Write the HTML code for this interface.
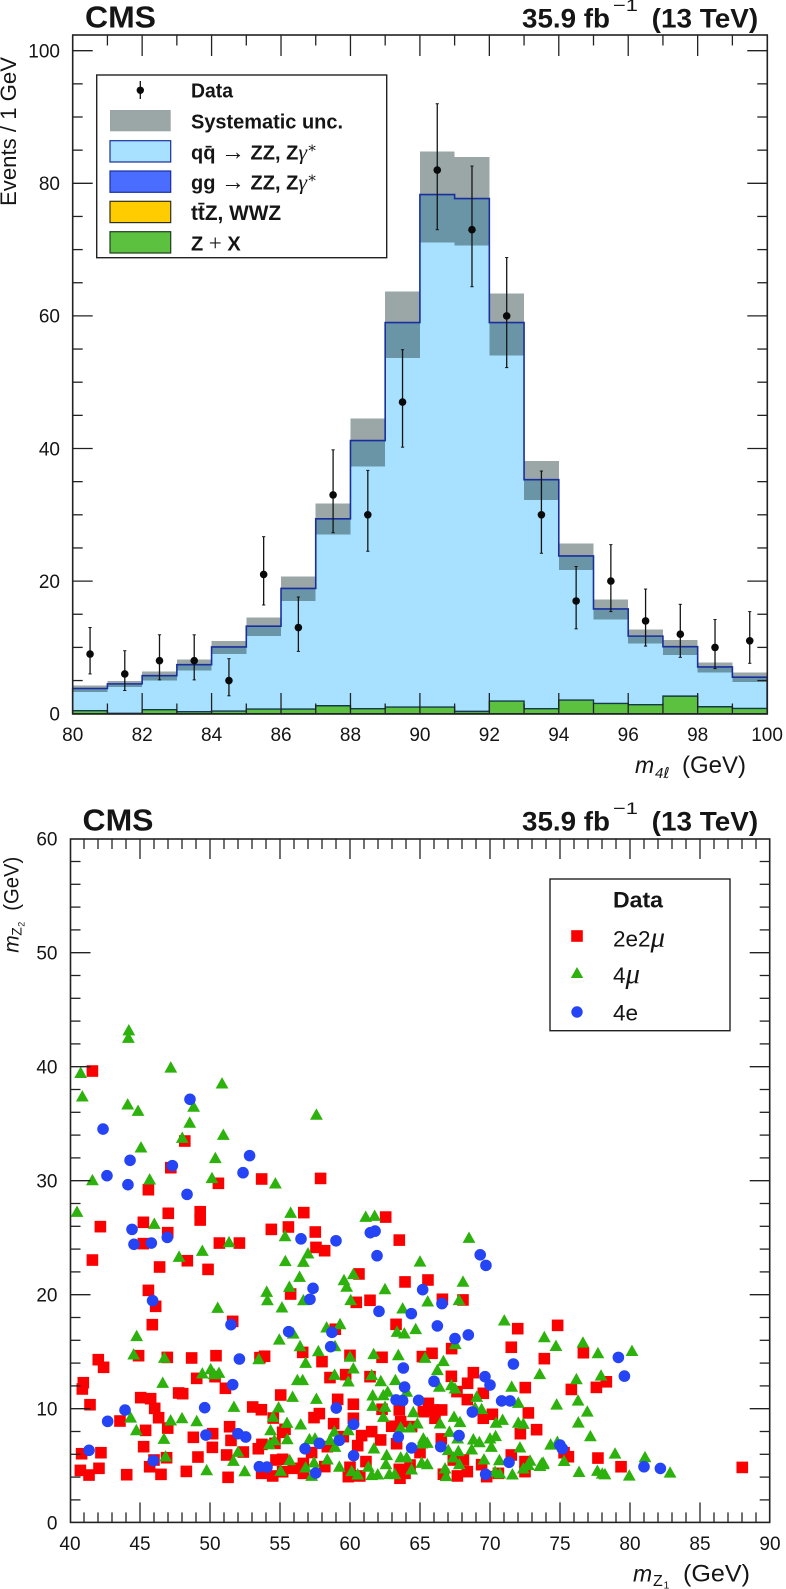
<!DOCTYPE html>
<html lang="en">
<head>
<meta charset="utf-8">
<title>CMS m4l and mZ1 vs mZ2 plots</title>
<style>
html,body{margin:0;padding:0;background:#fff}
svg{display:block;font-family:"Liberation Sans",Arial,sans-serif;fill:#151515}
.b{font-weight:bold}
.sym{font-family:"Liberation Serif","DejaVu Serif",serif;font-weight:normal}
</style>
</head>
<body>
<svg id="fig" xmlns="http://www.w3.org/2000/svg" width="786" height="1589" viewBox="0 0 786 1589">
<g id="top-marks"></g>
<g id="top-ticks"></g>
<g id="top-data"></g>
<rect x="72.7" y="35" width="694.6" height="679" fill="none" stroke="#222" stroke-width="1.6"/>

<text class="b" x="85" y="27.7" font-size="31" textLength="71" lengthAdjust="spacingAndGlyphs">CMS</text>
<text class="b" x="522" y="27.7" font-size="27" textLength="88" lengthAdjust="spacingAndGlyphs">35.9 fb</text>
<text x="613" y="11" font-size="17" textLength="25" lengthAdjust="spacingAndGlyphs">−1</text>
<text class="b" x="651.7" y="27.7" font-size="27" textLength="106.5" lengthAdjust="spacingAndGlyphs">(13 TeV)</text>
<text transform="translate(16,206) rotate(-90)" font-size="22" textLength="149" lengthAdjust="spacingAndGlyphs">Events / 1 GeV</text>
<g>
<text x="635" y="773" font-size="23" font-style="italic">m</text>
<text x="655" y="778" font-size="15" font-style="italic">4<tspan font-family="DejaVu Sans">ℓ</tspan></text>
<text x="682" y="773" font-size="24" textLength="64" lengthAdjust="spacingAndGlyphs">(GeV)</text>
</g>

<g>
<rect x="96.7" y="75" width="290" height="182.7" fill="#fff" stroke="#222" stroke-width="1.4"/>
<g>
<line x1="140.3" y1="81" x2="140.3" y2="99" stroke="#111" stroke-width="1.3"/>
<circle cx="140.3" cy="90.3" r="3.7" fill="#0a0a0a"/>
<text class="b" x="191" y="97.3" font-size="20" textLength="42" lengthAdjust="spacingAndGlyphs">Data</text>
</g>
<g>
<rect x="110" y="110" width="60.7" height="21.3" fill="#9ba6a6"/>
<text class="b" x="191" y="128.3" font-size="20" textLength="152" lengthAdjust="spacingAndGlyphs">Systematic unc.</text>
</g>
<g>
<rect x="110" y="140.7" width="60.7" height="21.3" fill="#a7e1ff" stroke="#1a2f9e" stroke-width="1.2"/>
<text class="b" x="191" y="159.3" font-size="20">qq̄ <tspan class="sym" font-size="24">→</tspan> ZZ, Z<tspan class="sym" font-style="italic" font-size="22">γ</tspan><tspan class="sym" font-size="15" dy="-7">∗</tspan></text>
</g>
<g>
<rect x="110" y="171" width="60.7" height="21.3" fill="#4a6cff" stroke="#1a2f9e" stroke-width="1.2"/>
<text class="b" x="191" y="189.3" font-size="20">gg <tspan class="sym" font-size="24">→</tspan> ZZ, Z<tspan class="sym" font-style="italic" font-size="22">γ</tspan><tspan class="sym" font-size="15" dy="-7">∗</tspan></text>
</g>
<g>
<rect x="110" y="201.3" width="60.7" height="21.3" fill="#ffcc00" stroke="#33301a" stroke-width="1.2"/>
<text class="b" x="191" y="220" font-size="20.8">tt̄Z, WWZ</text>
</g>
<g>
<rect x="110" y="231.7" width="60.7" height="21.3" fill="#5bc13f" stroke="#1f3d1f" stroke-width="1.2"/>
<text class="b" x="191" y="250.7" font-size="20">Z <tspan class="sym" font-size="23">+</tspan> X</text>
</g>
</g>

<g id="low-squares"></g>
<g id="low-triangles"></g>
<g id="low-circles"></g>
<g id="low-ticks"></g>
<rect x="70.5" y="839" width="699.2" height="683.4" fill="none" stroke="#222" stroke-width="1.6"/>

<text class="b" x="82.5" y="830.7" font-size="31" textLength="71" lengthAdjust="spacingAndGlyphs">CMS</text>
<text class="b" x="522" y="830.7" font-size="27" textLength="88" lengthAdjust="spacingAndGlyphs">35.9 fb</text>
<text x="613" y="814" font-size="17" textLength="25" lengthAdjust="spacingAndGlyphs">−1</text>
<text class="b" x="651.7" y="830.7" font-size="27" textLength="106.5" lengthAdjust="spacingAndGlyphs">(13 TeV)</text>

<g transform="translate(18.5,952.7) rotate(-90)">
<text x="0" y="0" font-size="21" font-style="italic">m</text>
<text x="17" y="3" font-size="14">Z</text>
<text x="26" y="6" font-size="9">2</text>
<text x="42" y="0" font-size="21" textLength="54" lengthAdjust="spacingAndGlyphs">(GeV)</text>
</g>
<g>
<text x="633" y="1581.7" font-size="23" font-style="italic">m</text>
<text x="653" y="1586" font-size="16">Z</text>
<text x="663.5" y="1588.5" font-size="10.5">1</text>
<text x="683" y="1581.7" font-size="24" textLength="67" lengthAdjust="spacingAndGlyphs">(GeV)</text>
</g>

<g>
<rect x="550" y="879" width="180" height="151.7" fill="#fff" stroke="#222" stroke-width="1.4"/>
<text class="b" x="613" y="907.7" font-size="22.5" textLength="50" lengthAdjust="spacingAndGlyphs">Data</text>
<g>
<rect x="571.2" y="930.2" width="11.6" height="11.6" fill="#fb0000"/>
<text x="613" y="946.7" font-size="22.5">2e2<tspan class="sym" font-style="italic" font-size="29">μ</tspan></text>
</g>
<g>
<polygon points="577,967 583.2,978 570.8,978" fill="#2db10c"/>
<text x="613" y="983" font-size="22.5">4<tspan class="sym" font-style="italic" font-size="29">μ</tspan></text>
</g>
<g>
<circle cx="577" cy="1012" r="5.7" fill="#2444f5"/>
<text x="613" y="1020.7" font-size="22.5">4e</text>
</g>
</g>
</svg>
<script>
// ---------- m4l histogram values ----------
const binEdgeStart = 80;
const binCenters = [80.5,81.5,82.5,83.5,84.5,85.5,86.5,87.5,88.5,89.5,90.5,91.5,92.5,93.5,94.5,95.5,96.5,97.5,98.5,99.5];
const totalPrediction = [3.8,4.5,5.74,7.4,10.07,13.2,18.9,29.4,41.2,59,78.3,77.7,59,35.3,23.8,15.8,11.7,10.1,7.05,5.5];
const sysUpper = [4.28,4.9,6.4,8.2,10.97,14.5,20.7,31.7,44.5,63.7,84.8,84,63.4,38.1,25.7,17.25,12.7,11.1,7.7,6.25];
const sysLower = [3.3,4,5,6.5,9,11.7,17,27,37.3,53.65,71.1,70.6,54,32.2,21.7,14.2,10.6,8.85,6.25,4.8];
const zPlusX = [0.45,0.05,0.6,0.3,0.4,0.7,0.7,1.2,0.75,1,1,0.35,1.9,0.75,2.05,1.55,1.36,2.65,1.05,0.8];
const dataCounts = [9,6,8,8,5,21,13,33,30,47,82,73,60,30,17,20,14,12,10,11];
const dataErrLow = [6,3.5,5.1,5.1,2.7,16.4,9.4,27.3,24.5,40.2,73,64.4,52.2,24.2,12.8,15.4,10.2,8.5,6.8,7.6];
const dataErrHigh = [13,9.5,11.9,11.9,8.3,26.7,17.6,39.8,36.7,54.9,92,82.6,68.8,36.6,22.2,25.5,18.8,16.5,14.2,15.4];
const topXTickLabels = [80,82,84,86,88,90,92,94,96,98,100];
const topYTickLabels = [0,20,40,60,80,100];

// ---------- mZ1 / mZ2 event values: [mZ1, mZ2] ----------
const events2e2mu = [
[41.6,39.62],[48.2,33.48],[47.2,31.14],[50.6,29.77],[53.69,30.15],[57.9,30.2],[45.6,29.21],[47.02,27.14],[49.3,27.28],[49.3,26.55],[45.24,26.35],[42.17,25.97],[56.7,27.2],[55.6,25.94],[54.38,25.73],[57.52,25.5],[46.98,25.44],[50.67,24.53],[52.1,24.53],[45.24,24.48],[57.57,24.15],[58.19,23.86],[41.6,23.04],[48.38,22.98],
[46.4,22.43],[49.86,22.22],[45.6,20.38],[46.12,18.98],[45.88,17.37],[51.62,17.66],[42.02,14.3],[42.4,13.63],[44.9,14.65],[46.95,14.5],[48.69,14.45],[50.43,14.65],[53.57,14.48],[53.9,14.6],[56.62,14.94],[58,14.13],[40.95,12.28],[40.88,11.73],[49.05,12.66],[50.36,12.81],[51.1,11.79],[47.76,11.38],[48.05,11.32],[55.05,11.2],[45.05,10.97],[45.76,10.88],[41.43,10.35],[46.05,10.03],[46.33,9.21],[53.05,10.15],[53.67,9.91],[54.52,9.18],[43.57,8.92],[46.98,8.3],[45.4,8.1],[51.4,8.42],[55.36,8.19],[55.19,7.93],[50.19,7.81],[48.81,7.49],[51.5,7.22],[45.26,6.67],[50.17,6.61],[53.45,6.49],[53.71,6.87],[54.64,6.96],[52.38,6.2],[51.19,5.94],[40.83,6.05],[42.21,6.14],[46.9,5.7],[49.14,5.76],[45.69,4.91],[46,5.5],[40.74,4.59],[41.36,4.18],[42.07,4.77],[44.05,4.21],[46.5,4.24],[48.31,4.5],[51.29,3.98],[54.71,5.5],[55.19,5.56],[53.69,4.33],[54.48,4.1],[55.19,4.47],[55.95,4.77],[56.67,5.2],[56.67,4.33],[55.76,20.06],
[62.55,26.81],[63.52,24.79],[60.64,21.82],[63.93,21.12],[65.57,21.29],[60.45,19.33],[61.43,19.51],[66.6,19.6],[68.07,19.54],[63.29,17.4],[58.95,16.97],[71.98,17.02],[71.52,15.39],[73.88,14.39],[67.26,15.27],[60,14.68],[62.29,14.51],[65.17,14.57],[65.86,14.86],[59.69,12.99],[58.57,12.73],[61.43,12.81],[67.24,12.84],[68.81,13.16],[68.4,12.23],[67.64,11.5],[72.52,11.85],[69.52,11.35],[68.38,10.8],[59.12,10.82],[60.24,10.39],[57.81,9.57],[57.43,9.22],[62.29,9.95],[63.52,9.89],[65.6,10.47],[65.24,9.74],[65.95,9.89],[66.55,9.89],[66.07,9.16],[60.24,9.16],[72.74,9.63],[70.17,9.51],[69.52,9.16],[58.83,8.69],[62.98,8.46],[63.62,8.87],[64.4,8.43],[61.55,7.99],[60.83,7.64],[62.19,7.26],[59.52,7.55],[73.33,8.16],[72.17,7.81],[60.55,6.76],[63.33,6.93],[66.52,7.35],[58.38,6.67],[57.26,6.15],[65,6.15],[71.52,5.94],[68.1,5.5],[67.38,5.5],[61.14,5.36],[72.5,5.36],[69.4,5.09],[58.2,4.92],[60,4.86],[64.29,5.06],[63.52,4.68],[63.93,4.33],[59.88,4.04],[60.7,4.1],[63.57,3.9],[66.67,4.25],[67.67,4.1],[68.38,4.48],[69.76,4.04],[70.6,4.33],[72.5,4.48],
[74.83,17.31],[76.67,14.91],[75.81,11.69],[77.6,11.87],[78.31,12.36],[75.29,6.14],[75.6,5.79],[77.71,5.67],[79.36,4.91],[88.02,4.85]
];
const events4mu = [
[44.2,43.2],[44.17,42.55],[40.76,39.47],[40.88,37.4],[47.2,39.94],[50.86,38.54],[44.12,36.7],[44.86,36.14],[48.83,36.5],[48.55,35.1],[57.6,35.8],[48.02,33.77],[50.95,34.04],[45.07,32.93],[50.38,32],[41.6,30.06],[45.69,30.12],[50.14,30.24],[54.67,29.77],[40.5,27.28],[55.76,27.2],[46.02,26.23],[55.36,25.15],[51.36,24.62],[49.45,23.86],[57,23.63],[47.79,23.34],[55.38,22.96],[56.67,22.9],
[56.4,21.58],[55.67,20.7],[54.05,20.27],[54.1,19.53],[55.14,18.89],[56.67,19.53],[50.55,18.86],[44.76,16.38],[54.95,16.08],[55.95,16.6],[56.43,15.5],[44.55,14.77],[46.74,14.48],[53.48,14.36],[56.83,14.04],[46.62,12.28],[49.45,13.1],[50.05,13.48],[50.29,13.04],[50.64,13.16],[56.24,12.52],[56.62,12.52],[55.9,11.05],[51.71,10.18],[54.9,10.12],[44.33,9.24],[48,9.18],[47.19,8.98],[49.05,8.92],[54.5,9.3],[55.5,8.77],[56.48,8.63],[44.74,8.13],[54.33,8.13],[46.71,7.37],[55.52,7.34],[57.1,7.34],[54.6,7.25],[54.24,6.9],[52,6.23],[46.83,5.82],[51.67,5.44],[55.69,5.5],[49.76,4.62],[52.48,4.53],[55.05,4.56],[56.83,4.86],
[61.12,26.84],[61.76,26.93],[68.5,25],[65,22.92],[60.24,21.82],[59.57,21.29],[59.76,20.71],[62.5,20.5],[68.07,21.15],[60.05,19.54],[65.55,19.42],[67.79,19.54],[63.76,18.81],[71.02,17.75],[58.33,17.14],[59.29,17.43],[63.36,16.76],[63.88,16.61],[64.69,17],[73.88,16.29],[58.93,15.5],[57.74,15.06],[67.52,15.68],[60,14.57],[61.69,14.8],[63.45,14.71],[65.36,14.48],[66.67,14.19],[66.24,13.4],[60.24,13.54],[58.9,12.99],[59.88,12.4],[61.55,12.96],[63.24,12.52],[62.2,12.43],[73.55,13.05],[66.38,11.94],[67.24,12.08],[67.5,11.79],[71.55,11.94],[64.05,11.5],[62.69,11.5],[62.38,11.2],[61.62,11.18],[61.62,10.27],[57.6,10.88],[69.05,11.06],[72.02,10.53],[62.5,10.18],[62.38,9.3],[69.4,9.98],[68.93,10.1],[64.52,9.71],[67.43,9.3],[67.86,8.84],[66.43,8.72],[70.9,9.04],[70.43,8.78],[72.02,8.78],[72.38,8.69],[63.62,8.37],[64.29,8.37],[64.81,8.72],[58.88,8],[59.88,8.13],[67.1,7.99],[65.24,7.4],[65.52,7.02],[65.12,6.96],[70.4,7.61],[70,7.4],[70.1,6.67],[68.81,7.32],[69.24,7.08],[67.69,7.4],[67.02,6.38],[67.74,6.29],[68.69,6.44],[61.71,6.53],[72.14,6.61],[58.93,6.67],[58.57,7.26],[57.5,7.4],[62.62,5.94],[62.57,5.15],[63.62,5.74],[64.05,5.74],[58.38,5.56],[57.43,5.3],[67.38,5.74],[67.81,5.15],[69.57,5.56],[70.67,5.5],[65.12,5.27],[65.52,5.15],[59.24,4.92],[61.31,4.92],[64.4,4.68],[66.79,4.77],[66.86,4.1],[60.12,4.54],[60.55,4.25],[61.55,4.19],[61.98,4.25],[62.81,4.28],[63.2,4.28],[70.36,4.48],[70.7,4.33],[71.6,4.25],[72.86,5.45],[72.74,5.07],[72.38,4.77],[73.69,5.21],[73.8,5.27],[57.26,4.13],
[74.71,15.52],[76.64,15.81],[77.71,14.88],[80.14,15.08],[76.17,12.6],[77.93,12.92],[74.76,10.38],[76.29,10.73],[76.95,9.76],[76.31,8.8],[77.17,7.6],[74.33,6.87],[74.81,7.1],[78.93,6.08],[81.07,5.76],[75.29,5.43],[73.81,5.14],[73.57,4.99],[76.36,4.47],[77.67,4.56],[78.02,4.32],[78.21,4.26],[79.95,4.15],[82.86,4.41]
];
const events4e = [
[48.57,37.14],[42.36,34.53],[44.29,31.79],[47.31,31.32],[52.83,32.2],[52.36,30.7],[42.64,30.44],[44.14,29.65],[48.36,28.8],[44.43,25.73],[44.57,24.42],[45.81,24.53],[46.95,25.03],[56.5,24.9],
[45.9,19.48],[51.5,17.37],[55.62,16.76],[52.1,14.36],[51.62,12.11],[49.62,10.09],[43.93,9.88],[42.69,8.89],[49.71,7.69],[52,7.81],[52.55,7.52],[56.79,6.49],[41.36,6.35],[45.95,5.44],[53.52,4.91],[54.07,4.88],
[61.45,25.44],[61.79,25.58],[59,24.73],[61.93,23.42],[69.3,23.5],[69.71,22.57],[57.36,20.56],[57.14,19.6],[65.19,20.44],[66.57,19.22],[62.07,18.54],[64.38,18.34],[66.24,17.26],[58.71,16.7],[58.62,15.44],[67.5,16.15],[68.45,16.47],[71.67,13.92],[63.81,13.57],[66,12.4],[63.9,11.9],[69.64,12.81],[70,12.08],[70.83,10.68],[71.43,10.68],[63.29,10.77],[63.76,10.71],[64.9,10.74],[59.02,10.06],[68.74,9.71],[60.26,8.63],[63.45,7.52],[67.79,7.64],[59.24,7.23],[57.81,6.96],[66.48,6.67],[64.4,6.56],[60.26,5.88],[71.36,5.3],[69.69,4.25],[57.55,4.36],
[79.17,14.5],[79.6,12.86],[75,6.81],[75.17,6.49],[81,4.91],[82.17,4.76]
];
const lowXTickLabels = [40,45,50,55,60,65,70,75,80,85,90];
const lowYTickLabels = [0,10,20,30,40,50,60];

// ---------- axis functions ----------
const topX = v => 72.7 + (v - 80) * 34.72;
const topY = v => 713.7 - v * 6.63;
const lowX = v => 70 + (v - 40) * 14;
const lowY = v => 1522.7 - v * 11.4;

const NS = 'http://www.w3.org/2000/svg';
function make(tag, attrs, parent) {
  const el = document.createElementNS(NS, tag);
  for (const k in attrs) el.setAttribute(k, attrs[k]);
  parent.appendChild(el);
  return el;
}
function stepPath(values, xFn, yFn) {
  let d = 'M' + xFn(binEdgeStart) + ' ' + yFn(0);
  values.forEach((v, i) => {
    d += 'L' + xFn(binEdgeStart + i) + ' ' + yFn(v) + 'L' + xFn(binEdgeStart + i + 1) + ' ' + yFn(v);
  });
  return d + 'L' + xFn(binEdgeStart + values.length) + ' ' + yFn(0);
}

// ---------- histogram ----------
const marks = document.getElementById('top-marks');
const bluePath = make('path', {d: stepPath(totalPrediction, topX, topY) + 'Z', fill: '#a7e1ff'}, marks);



sysUpper.forEach((hi, i) => {
  const lo = sysLower[i];
  const band = make('rect', {
    x: topX(binEdgeStart + i), y: topY(hi),
    width: topX(binEdgeStart + i + 1) - topX(binEdgeStart + i),
    height: topY(lo) - topY(hi),
    fill: 'rgb(28,52,52)', 'fill-opacity': 0.44, 'shape-rendering': 'crispEdges'
  }, marks);
  
  
});

const totalLine = make('path', {d: stepPath(totalPrediction, topX, topY), fill: 'none', stroke: '#1a2f9e', 'stroke-width': 1.6}, marks);



const greenPath = make('path', {d: stepPath(zPlusX, topX, topY) + 'Z', fill: '#5bc13f', stroke: '#143a4a', 'stroke-width': 1.4}, marks);



// ---------- data points ----------
const dataLayer = document.getElementById('top-data');
dataCounts.forEach((n, i) => {
  const x = topX(binCenters[i]);
  const bar = make('line', {x1: x, x2: x, y1: topY(dataErrLow[i]), y2: topY(dataErrHigh[i]), stroke: '#151515', 'stroke-width': 1.3}, dataLayer);
  
  
  [dataErrLow[i], dataErrHigh[i]].forEach(e => {
    const cap = make('line', {x1: x - 1.6, x2: x + 1.6, y1: topY(e), y2: topY(e), stroke: '#151515', 'stroke-width': 1}, dataLayer);
    
    
  });
  const dot = make('circle', {cx: x, cy: topY(n), r: 3.8, fill: '#0a0a0a'}, dataLayer);
  
  
});

// ---------- ticks ----------
function tickLine(parent, x1, y1, x2, y2) {
  const t = make('line', {x1, y1, x2, y2, stroke: '#222', 'stroke-width': 1.3}, parent);
  
  
}
function tickText(parent, x, y, anchor, s, name) {
  const t = make('text', {x, y, 'text-anchor': anchor, 'font-size': 19}, parent);
  
  
  t.textContent = s;
}
const topTicks = document.getElementById('top-ticks');
for (let v = 81; v < 100; v++) {
  const len = v % 2 === 0 ? 21 : 10.5;
  tickLine(topTicks, topX(v), 714, topX(v), 714 - len);
  tickLine(topTicks, topX(v), 35, topX(v), 35 + len);
}
for (let v = 5; v < 105; v += 5) {
  const len = v % 20 === 0 ? 20 : 10;
  tickLine(topTicks, 72.7, topY(v), 72.7 + len, topY(v));
  tickLine(topTicks, 767.3, topY(v), 767.3 - len, topY(v));
}
topXTickLabels.forEach(v => tickText(topTicks, topX(v), 741, 'middle', v, 'top-x-tick-label'));
topYTickLabels.forEach(v => tickText(topTicks, 60, topY(v) + 6.8, 'end', v, 'top-y-tick-label'));

const lowTicks = document.getElementById('low-ticks');
for (let v = 41; v < 90; v++) {
  const len = v % 5 === 0 ? 20 : 10;
  tickLine(lowTicks, lowX(v), 1522.4, lowX(v), 1522.4 - len);
  tickLine(lowTicks, lowX(v), 839, lowX(v), 839 + len);
}
for (let v = 2; v < 60; v += 2) {
  const len = v % 10 === 0 ? 20 : 10;
  tickLine(lowTicks, 70.5, lowY(v), 70.5 + len, lowY(v));
  tickLine(lowTicks, 769.7, lowY(v), 769.7 - len, lowY(v));
}
lowXTickLabels.forEach(v => tickText(lowTicks, lowX(v), 1550, 'middle', v, 'lower-x-tick-label'));
lowYTickLabels.forEach(v => tickText(lowTicks, 57.5, lowY(v) + 6.8, 'end', v, 'lower-y-tick-label'));

// ---------- scatter ----------
const squaresG = document.getElementById('low-squares');
events2e2mu.forEach(p => {
  const s = make('rect', {x: lowX(p[0]) - 5.8, y: lowY(p[1]) - 5.8, width: 11.6, height: 11.6, fill: '#fb0000'}, squaresG);
  
  
});
const trianglesG = document.getElementById('low-triangles');
events4mu.forEach(p => {
  const x = lowX(p[0]), y = lowY(p[1]);
  const t = make('polygon', {points: `${x},${y - 6.2} ${x + 6.4},${y + 5.2} ${x - 6.4},${y + 5.2}`, fill: '#2db10c'}, trianglesG);
  
  
});
const circlesG = document.getElementById('low-circles');
events4e.forEach(p => {
  const c = make('circle', {cx: lowX(p[0]), cy: lowY(p[1]), r: 5.8, fill: '#2444f5'}, circlesG);
  
  
});
</script>
</body>
</html>
